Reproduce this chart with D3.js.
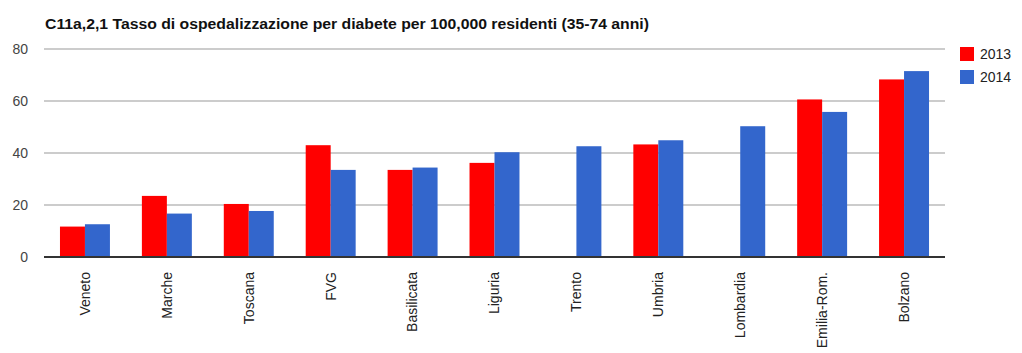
<!DOCTYPE html>
<html>
<head>
<meta charset="utf-8">
<script src="https://cdn.jsdelivr.net/npm/d3@7"></script>
<style>
  html, body { margin: 0; padding: 0; background: #fff; }
  svg { display: block; font-family: "Liberation Sans", Arial, sans-serif; }
</style>
</head>
<body>
<svg id="chart" width="1022" height="353"></svg>
<script>
// Hospitalisation rate for diabetes per 100,000 residents (35-74 years), by region
const regions = ["Veneto", "Marche", "Toscana", "FVG", "Basilicata", "Liguria",
                 "Trento", "Umbria", "Lombardia", "Emilia-Rom.", "Bolzano"];
const years = ["2013", "2014"];
const values2013 = [11.7, 23.5, 20.4, 43.0, 33.5, 36.2, null, 43.3, null, 60.6, 68.3];
const values2014 = [12.6, 16.7, 17.7, 33.5, 34.4, 40.3, 42.6, 44.9, 50.3, 55.8, 71.5];
const yTicks = [0, 20, 40, 60, 80];
const colors = ["#ff0000", "#3366cc"];
const title = "C11a,2,1 Tasso di ospedalizzazione per diabete per 100,000 residenti (35-74 anni)";

const svg = d3.select("#chart");
const plot = { left: 44, right: 945, top: 49, bottom: 257 };

const x = d3.scaleBand().domain(regions).range([plot.left, plot.right]).paddingInner(0.39).paddingOuter(0.195);
const xs = d3.scaleBand().domain(years).range([0, x.bandwidth()]);
const y = d3.scaleLinear().domain([0, 80]).range([plot.bottom, plot.top]);

// title
svg.append("text")
  .attr("x", 45).attr("y", 29)
  .attr("font-size", 14).attr("font-weight", "bold").attr("fill", "#111")
  .attr("textLength", 604).attr("lengthAdjust", "spacingAndGlyphs")
  .text(title);

// gridlines
svg.append("g").selectAll("line")
  .data(yTicks.filter(d => d > 0))
  .join("line")
  .attr("x1", plot.left).attr("x2", plot.right)
  .attr("y1", d => y(d)).attr("y2", d => y(d))
  .attr("stroke", "#cccccc").attr("stroke-width", 2);

// y axis labels
const yAxis = svg.append("g")
  .attr("transform", `translate(${plot.left},0)`)
  .call(d3.axisLeft(y).tickValues(yTicks).tickSize(0).tickPadding(16));
yAxis.select(".domain").remove();
yAxis.selectAll("text").attr("font-size", 14).attr("fill", "#444")
  .attr("font-family", "'Liberation Sans', Arial, sans-serif");

// bars
const series = [values2013, values2014];
const groups = svg.append("g");
series.forEach((vals, si) => {
  groups.append("g").selectAll("rect")
    .data(regions.map((r, i) => ({ r, v: vals[i] })).filter(d => d.v != null))
    .join("rect")
    .attr("x", d => x(d.r) + xs(years[si]))
    .attr("width", xs.bandwidth())
    .attr("y", d => y(d.v))
    .attr("height", d => y(0) - y(d.v))
    .attr("fill", colors[si]);
});

// baseline
svg.append("line")
  .attr("x1", plot.left).attr("x2", plot.right)
  .attr("y1", y(0)).attr("y2", y(0))
  .attr("stroke", "#333").attr("stroke-width", 2);

// x axis labels (rotated)
const xAxis = svg.append("g")
  .attr("transform", `translate(0,${plot.bottom})`)
  .call(d3.axisBottom(x).tickSize(0).tickPadding(0));
xAxis.select(".domain").remove();
xAxis.selectAll("text")
  .attr("font-size", 14).attr("fill", "#222")
  .attr("font-family", "'Liberation Sans', Arial, sans-serif")
  .attr("text-anchor", "end")
  .attr("dy", "0.35em")
  .attr("transform", "translate(0,15) rotate(-90)")
  .attr("x", 0).attr("y", 0);

// legend
const legend = svg.append("g").attr("transform", "translate(960,47)");
years.forEach((yr, i) => {
  const g = legend.append("g").attr("transform", `translate(0,${i * 23})`);
  g.append("rect").attr("width", 14).attr("height", 14).attr("fill", colors[i]);
  g.append("text").attr("x", 20).attr("y", 12).attr("font-size", 14).attr("fill", "#222").text(yr);
});
</script>
</body>
</html>
